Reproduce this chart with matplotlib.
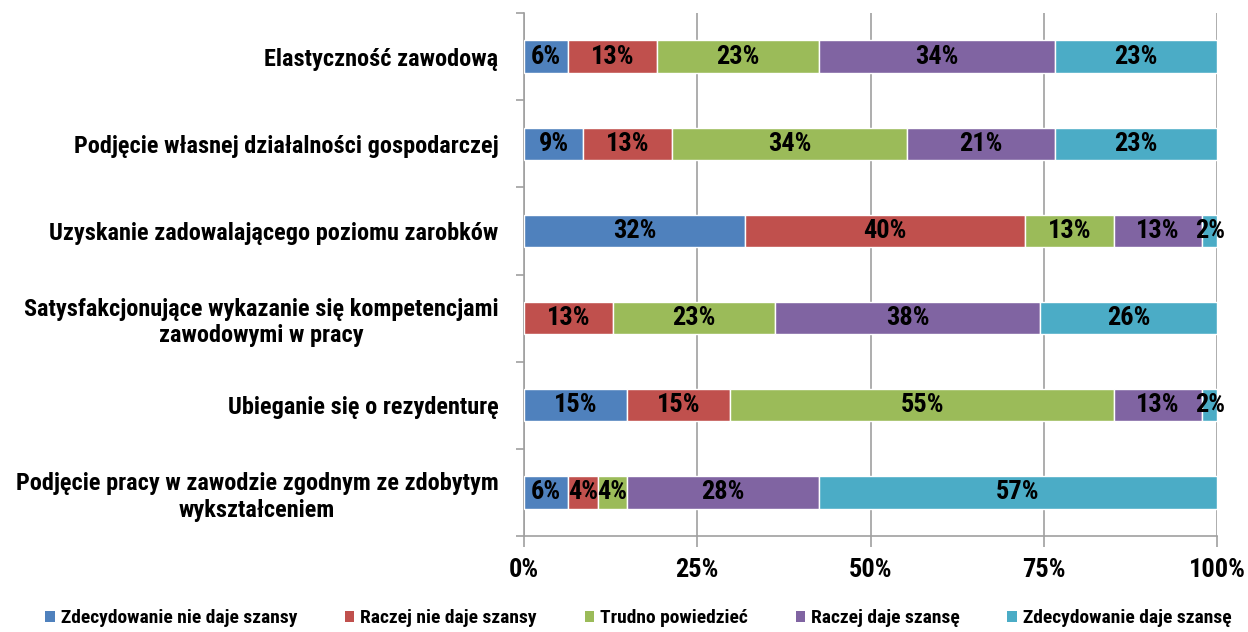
import matplotlib
matplotlib.use("Agg")
import matplotlib.pyplot as plt
from matplotlib.patches import Patch

plt.rcParams['font.family'] = ['Roboto Condensed', 'Archivo Narrow', 'Asap Condensed', 'DejaVu Sans']
plt.rcParams['font.weight'] = 800

# categories, top to bottom
categories = [
    "Elastyczność zawodową",
    "Podjęcie własnej działalności gospodarczej",
    "Uzyskanie zadowalającego poziomu zarobków",
    "Satysfakcjonujące wykazanie się kompetencjami\nzawodowymi w pracy",
    "Ubieganie się o rezydenturę",
    "Podjęcie pracy w zawodzie zgodnym ze zdobytym\nwykształceniem",
]

series_names = [
    "Zdecydowanie nie daje szansy",
    "Raczej nie daje szansy",
    "Trudno powiedzieć",
    "Raczej daje szansę",
    "Zdecydowanie daje szansę",
]

# percentages per series, same order as categories
zdec_nie = [6.38, 8.51, 31.91, 0.0, 14.89, 6.38]
raczej_nie = [12.77, 12.77, 40.43, 12.77, 14.89, 4.26]
trudno = [23.40, 34.04, 12.77, 23.40, 55.32, 4.26]
raczej_tak = [34.04, 21.28, 12.77, 38.30, 12.77, 27.66]
zdec_tak = [23.40, 23.40, 2.13, 25.53, 2.13, 57.45]

series = [zdec_nie, raczej_nie, trudno, raczej_tak, zdec_tak]
colors = ['#4F81BD', '#C0504D', '#9BBB59', '#8064A2', '#4BACC6']

fig = plt.figure(figsize=(12.48, 6.32), dpi=100)
ax = fig.add_axes([0.4199, 0.1519, 0.5553, 0.8275])

ypos = list(range(len(categories)))
left = [0.0] * len(categories)
for vals, col, name in zip(series, colors, series_names):
    bars = ax.barh(ypos, vals, left=left, height=0.37, color=col,
                   edgecolor='white', linewidth=1, label=name, zorder=3)
    for b, v in zip(bars, vals):
        if v > 0:
            ax.text(b.get_x() + b.get_width() / 2, b.get_y() + b.get_height() / 2,
                    '%.0f%%' % v, ha='center', va='center', fontsize=19,
                    color='black', zorder=4)
    left = [l + v for l, v in zip(left, vals)]

ax.set_xlim(0, 100)
ax.set_ylim(len(categories) - 0.5, -0.5)

ax.set_xticks([0, 25, 50, 75, 100])
ax.set_xticklabels(['0%', '25%', '50%', '75%', '100%'])
ax.xaxis.grid(True, color='#a0a0a0', linewidth=1.2, zorder=0)
ax.tick_params(axis='x', length=8, width=1.2, color='#a0a0a0', pad=8, labelsize=19)

ax.set_yticks([i - 0.5 for i in range(len(categories) + 1)])
ax.set_yticklabels([])
ax.set_yticks(ypos, minor=True)
ax.set_yticklabels(categories, minor=True, fontsize=17.5, multialignment='center')
ax.tick_params(axis='y', which='major', length=6, width=1.2, color='#a0a0a0')
ax.tick_params(axis='y', which='minor', length=0, pad=18.5)

for s in ['top', 'right']:
    ax.spines[s].set_visible(False)
for s in ['left', 'bottom']:
    ax.spines[s].set_color('#a0a0a0')
    ax.spines[s].set_linewidth(1.2)

handles = [Patch(facecolor=c, edgecolor='none') for c in colors]
fig.legend(handles, series_names, loc='center', bbox_to_anchor=(0.5115, 0.022),
           ncol=5, frameon=False, fontsize=14, handlelength=0.5, handleheight=0.5,
           handletextpad=0.3, columnspacing=2.45)

fig.savefig('out.png', dpi=100)
